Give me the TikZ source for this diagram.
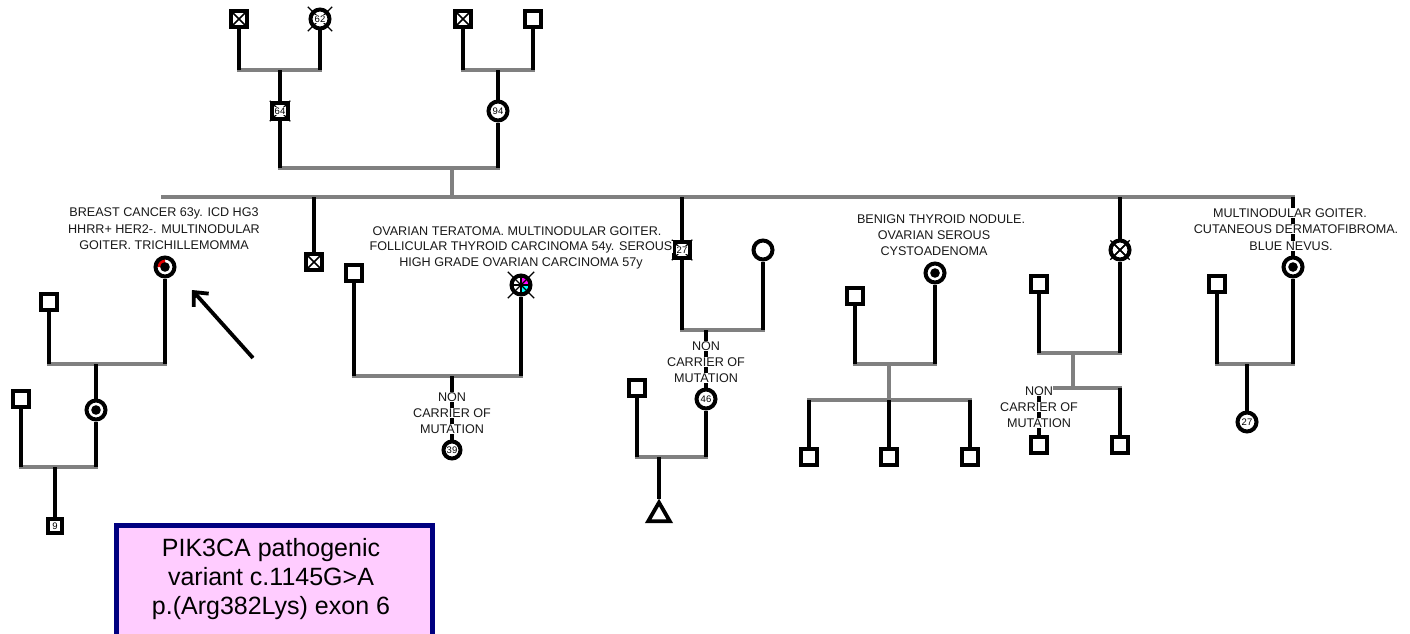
\documentclass[tikz,border=0pt]{standalone}
\usepackage{fontspec}
\setmainfont{Liberation Sans}
\usetikzlibrary{arrows.meta,shapes.geometric,backgrounds}
\definecolor{lgray}{RGB}{128,128,128}
\definecolor{navyb}{RGB}{0,0,128}
\definecolor{boxpink}{RGB}{255,204,255}
\definecolor{mag}{RGB}{255,0,255}
\definecolor{cya}{RGB}{0,255,255}
\definecolor{redm}{RGB}{230,0,0}
\tikzset{
  bl/.style={draw=black,line width=3.8pt},
  gy/.style={draw=lgray,line width=3.8pt,line cap=rect},
  male/.style={rectangle,draw=black,line width=4pt,fill=white,minimum size=16.5pt,inner sep=0pt,font=\fontsize{9.5}{10}\selectfont},
  fem/.style={circle,draw=black,line width=4pt,fill=white,minimum size=19pt,inner sep=0pt,font=\fontsize{9.5}{10}\selectfont},
  xmale/.style={male,path picture={\draw[black,line width=1.5pt] (path picture bounding box.north west) -- (path picture bounding box.south east) (path picture bounding box.north east) -- (path picture bounding box.south west);}},
  afem/.style={fem,path picture={\fill[black] (path picture bounding box.center) circle[radius=4.8pt];}},
  dec/.style={draw=black,line width=1.2pt},
  num/.style={fill=white,inner sep=0.6pt,font=\fontsize{9.5}{10}\selectfont},
  lab/.style={fill=white,inner sep=0.4pt,text=black!90,font=\fontsize{12.6}{15}\selectfont},
}
\begin{document}
\begin{tikzpicture}[x=1pt,y=-1pt]
\useasboundingbox (0,0) rectangle (1410,634);
\clip (0,0) rectangle (1410,634);

% ---------- generation I ----------
\node[xmale] (g1a) at (239,19) {};
\node[fem] (g1b) at (320,19) {};
\node[xmale] (g1c) at (463,19) {};
\node[male] (g1d) at (533,19) {};
% ---------- generation II ----------
\node[male] (g2a) at (280,111) {};
\node[fem] (g2b) at (498,111) {94};
\coordinate (c1) at (280,70);
\coordinate (c2) at (498,70);
\coordinate (c3) at (452,168);
\coordinate (s0) at (452,197);
\coordinate (sL) at (163,197);
\coordinate (sR) at (1293,197);

% ---------- family 1 ----------
\node[fem,path picture={\fill[redm] (path picture bounding box.center) -- ++(90:8pt) arc[start angle=90,end angle=180,radius=8pt] -- cycle; \fill[black] (path picture bounding box.center) circle[radius=4.8pt];}] (f1) at (165,267) {};
\node[male] (m1) at (49,302) {};
\node[afem] (d1) at (96,410) {};
\node[male] (m1b) at (21,399) {};
\node[male,minimum size=14.5pt] (p9) at (55,526) {9};
\coordinate (k1) at (96,364);
\coordinate (k1b) at (55,467);
\coordinate (ar1) at (253,358);
\coordinate (ar2) at (192,290);

% ---------- family 2 ----------
\node[xmale] (xs) at (314,262) {};

% ---------- family 3 ----------
\node[fem,path picture={\fill[mag] (path picture bounding box.center) rectangle (path picture bounding box.north east); \fill[cya] (path picture bounding box.center) rectangle (path picture bounding box.south east); \draw[black,line width=2.2pt] (path picture bounding box.north) -- (path picture bounding box.south) (path picture bounding box.west) -- (path picture bounding box.east);}] (f3) at (521,285) {};
\node[male] (m3) at (354,273) {};
\node[fem,minimum size=17pt] (c39) at (452,450) {39};
\coordinate (k3) at (452,376);

% ---------- family 4 ----------
\node[male] (s4) at (682,250) {};
\node[fem] (f4) at (763,250) {};
\node[fem] (c46) at (706,399) {46};
\node[male] (m4b) at (637,388) {};
\node[regular polygon,regular polygon sides=3,draw=black,line width=3.8pt,fill=white,minimum size=25pt,inner sep=0pt] (tri) at (659,515) {};
\coordinate (k4) at (706,330);
\coordinate (k4b) at (659,457);

% ---------- family 5 ----------
\node[afem] (f5) at (935,273) {};
\node[male] (m5) at (855,296) {};
\node[male] (ch5a) at (809,457) {};
\node[male] (ch5b) at (889,457) {};
\node[male] (ch5c) at (970,457) {};
\coordinate (k5) at (889,364);
\coordinate (b5) at (889,400);

% ---------- family 6 ----------
\node[fem,path picture={\draw[black,line width=1.5pt] (path picture bounding box.north west) -- (path picture bounding box.south east) (path picture bounding box.north east) -- (path picture bounding box.south west);}] (x6) at (1120,250) {};
\node[male] (m6) at (1039,284) {};
\node[male] (ch6a) at (1039,445) {};
\node[male] (ch6b) at (1120,445) {};
\coordinate (k6) at (1073,353);
\coordinate (b6) at (1073,388);

% ---------- family 7 ----------
\node[afem] (f7) at (1293,267) {};
\node[male] (m7) at (1217,284) {};
\node[fem] (c27) at (1247,422) {27};
\coordinate (k7) at (1247,364);

% ---------- connectors ----------
\begin{scope}[on background layer]
  \draw[gy] (g1a |- c1) -- (g1b |- c1);
  \draw[bl] (g1a) -- (g1a |- c1);
  \draw[bl] (g1b) -- (g1b |- c1);
  \draw[bl] (c1) -- (g2a);
  \draw[gy] (g1c |- c2) -- (g1d |- c2);
  \draw[bl] (g1c) -- (g1c |- c2);
  \draw[bl] (g1d) -- (g1d |- c2);
  \draw[bl] (c2) -- (g2b);
  \draw[gy] (g2a |- c3) -- (g2b |- c3);
  \draw[bl] (g2a) -- (g2a |- c3);
  \draw[bl] (g2b) -- (g2b |- c3);
  \draw[gy] (c3) -- (s0);
  \draw[gy] (sL) -- (sR);
  \draw[bl] (xs |- sL) -- (xs);
  \draw[bl] (s4 |- sL) -- (s4);
  \draw[bl] (x6 |- sL) -- (x6);
  \draw[bl] (sR) -- (f7);
  % family 1
  \draw[gy] (m1 |- k1) -- (f1 |- k1);
  \draw[bl] (m1) -- (m1 |- k1);
  \draw[bl] (f1) -- (f1 |- k1);
  \draw[bl] (k1) -- (d1);
  \draw[gy] (m1b |- k1b) -- (d1 |- k1b);
  \draw[bl] (m1b) -- (m1b |- k1b);
  \draw[bl] (d1) -- (d1 |- k1b);
  \draw[bl] (k1b) -- (p9);
  % family 3
  \draw[gy] (m3 |- k3) -- (f3 |- k3);
  \draw[bl] (m3) -- (m3 |- k3);
  \draw[bl] (f3) -- (f3 |- k3);
  \draw[bl] (k3) -- (c39);
  % family 4
  \draw[gy] (s4 |- k4) -- (f4 |- k4);
  \draw[bl] (s4) -- (s4 |- k4);
  \draw[bl] (f4) -- (f4 |- k4);
  \draw[bl] (k4) -- (c46);
  \draw[gy] (m4b |- k4b) -- (c46 |- k4b);
  \draw[bl] (m4b) -- (m4b |- k4b);
  \draw[bl] (c46) -- (c46 |- k4b);
  \draw[bl] (k4b) -- (tri);
  % family 5
  \draw[gy] (m5 |- k5) -- (f5 |- k5);
  \draw[bl] (m5) -- (m5 |- k5);
  \draw[bl] (f5) -- (f5 |- k5);
  \draw[gy] (k5) -- (b5);
  \draw[gy] (ch5a |- b5) -- (ch5c |- b5);
  \draw[bl] (ch5a |- b5) -- (ch5a);
  \draw[bl] (ch5b |- b5) -- (ch5b);
  \draw[bl] (ch5c |- b5) -- (ch5c);
  % family 6
  \draw[gy] (m6 |- k6) -- (x6 |- k6);
  \draw[bl] (m6) -- (m6 |- k6);
  \draw[bl] (x6) -- (x6 |- k6);
  \draw[gy] (k6) -- (b6);
  \draw[gy] (ch6a |- b6) -- (ch6b |- b6);
  \draw[bl] (ch6a |- b6) -- (ch6a);
  \draw[bl] (ch6b |- b6) -- (ch6b);
  % family 7
  \draw[gy] (m7 |- k7) -- (f7 |- k7);
  \draw[bl] (m7) -- (m7 |- k7);
  \draw[bl] (f7) -- (f7 |- k7);
  \draw[bl] (k7) -- (c27);
\end{scope}

% ---------- deceased marks and numbers ----------
\draw[dec] ([shift={(-4pt,4pt)}]g1b.north west) -- ([shift={(4pt,-4pt)}]g1b.south east);
\draw[dec] ([shift={(4pt,4pt)}]g1b.north east) -- ([shift={(-4pt,-4pt)}]g1b.south west);
\node[num] (t62) at (g1b) {62};
\draw[dec] (g2a.north west) -- (g2a.south east) (g2a.north east) -- (g2a.south west);
\node[num] (t64) at (g2a) {64};
\draw[dec] (s4.north west) -- (s4.south east) (s4.north east) -- (s4.south west);
\node[num] (t27) at (s4) {27};
\draw[dec] ([shift={(-5pt,5pt)}]f3.north west) -- ([shift={(5pt,-5pt)}]f3.south east);
\draw[dec] ([shift={(5pt,5pt)}]f3.north east) -- ([shift={(-5pt,-5pt)}]f3.south west);
\draw[dec] ([shift={(-1.5pt,1.5pt)}]x6.north west) -- ([shift={(1.5pt,-1.5pt)}]x6.south east);
\draw[dec] ([shift={(1.5pt,1.5pt)}]x6.north east) -- ([shift={(-1.5pt,-1.5pt)}]x6.south west);

% ---------- arrow ----------
\draw[line width=3.8pt,-{Straight Barb[length=11pt,width=20pt]}] (ar1) -- (ar2);

% ---------- labels ----------
\node[lab] (l1a) at (164,213) {BREAST CANCER 63y. ICD HG3};
\node[lab] (l1b) at (164,229) {HHRR+ HER2-. MULTINODULAR};
\node[lab] (l1c) at (164,245) {GOITER. TRICHILLEMOMMA};

\node[lab] (l3a) at (517,231) {OVARIAN TERATOMA. MULTINODULAR GOITER.};
\node[lab] (l3b) at (521,247) {FOLLICULAR THYROID CARCINOMA 54y. SEROUS};
\node[lab] (l3c) at (521,263) {HIGH GRADE OVARIAN CARCINOMA 57y};

\node[lab] (n1a) at (452,397) {NON};
\node[lab] (n1b) at (452,413) {CARRIER OF};
\node[lab] (n1c) at (452,429) {MUTATION};

\node[lab] (n2a) at (706,346) {NON};
\node[lab] (n2b) at (706,362) {CARRIER OF};
\node[lab] (n2c) at (706,378) {MUTATION};

\node[lab] (l5a) at (941,219) {BENIGN THYROID NODULE.};
\node[lab] (l5b) at (934,235) {OVARIAN SEROUS};
\node[lab] (l5c) at (934,251) {CYSTOADENOMA};

\node[lab] (n3a) at (1039,391) {NON};
\node[lab] (n3b) at (1039,407) {CARRIER OF};
\node[lab] (n3c) at (1039,423) {MUTATION};

\node[lab] (l7a) at (1290,213) {MULTINODULAR GOITER.};
\node[lab] (l7b) at (1296,229) {CUTANEOUS DERMATOFIBROMA.};
\node[lab] (l7c) at (1291,246) {BLUE NEVUS.};

% ---------- variant box ----------
\node[draw=navyb,line width=5pt,fill=boxpink,minimum width=316pt,minimum height=130pt,anchor=north west,inner sep=0pt] (box) at (113.5,522.5) {};
\node[align=center,font=\fontsize{25}{29}\selectfont,inner sep=0pt] (boxt) at (271,579) {PIK3CA pathogenic\\variant c.1145G>A\\p.(Arg382Lys) exon 6};
\end{tikzpicture}
\end{document}
